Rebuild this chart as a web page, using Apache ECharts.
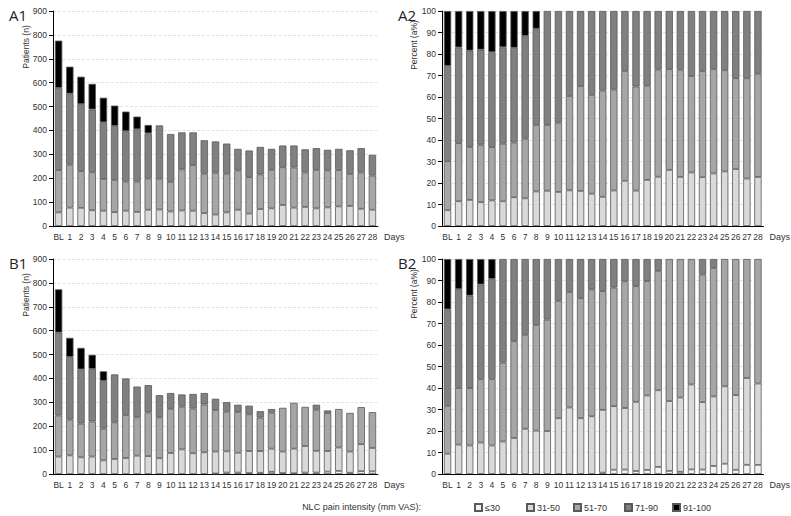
<!DOCTYPE html>
<html>
<head>
<meta charset="utf-8">
<script src="https://cdn.jsdelivr.net/npm/echarts@6/dist/echarts.min.js"></script>
<style>
  html, body { margin: 0; padding: 0; background: #fff; }
  #chart { width: 791px; height: 516px; }
</style>
</head>
<body>
<div id="chart"></div>
<script>
// day labels
var days = ['BL', '1', '2', '3', '4', '5', '6', '7', '8', '9', '10', '11', '12', '13', '14',
  '15', '16', '17', '18', '19', '20', '21', '22', '23', '24', '25', '26', '27', '28'];
// pain classes (mm VAS)
var levels = ['≤30', '31-50', '51-70', '71-90', '91-100'];
var colors = ['#f2f2f2', '#d9d9d9', '#a6a6a6', '#808080', '#000000'];

// group A : patients per class
var a30  = [0, 0, 0, 0, 0, 0, 0, 0, 0, 0, 0, 0, 0, 0, 0, 0, 0, 0, 0, 0, 0, 0, 0, 0, 0, 0, 0, 0, 0];
var a50  = [57, 77, 76, 66, 64, 58, 64, 59, 68, 69, 61, 65, 64, 54, 48, 57, 68, 52, 71, 74, 88, 77, 80, 74, 78, 82, 84, 72, 68];
var a70  = [177, 180, 154, 159, 133, 135, 122, 127, 131, 129, 124, 172, 191, 165, 175, 162, 165, 153, 145, 161, 158, 168, 144, 161, 155, 152, 134, 152, 143];
var a90  = [344, 297, 280, 263, 237, 226, 211, 219, 189, 223, 200, 155, 137, 140, 131, 126, 90, 111, 115, 88, 91, 92, 97, 91, 86, 89, 99, 102, 87];
var a100 = [198, 113, 115, 107, 103, 85, 82, 53, 35, 0, 0, 0, 0, 0, 0, 0, 0, 0, 0, 0, 0, 0, 0, 0, 0, 0, 0, 0, 0];

// group B : patients per class
var b30  = [0, 0, 0, 0, 0, 0, 0, 0, 0, 0, 0, 0, 0, 0, 2, 6, 6, 4, 5, 9, 4, 3, 6, 6, 10, 13, 5, 12, 11];
var b50  = [73, 78, 70, 73, 57, 63, 67, 77, 75, 66, 88, 103, 87, 91, 92, 89, 83, 92, 91, 97, 90, 103, 111, 91, 86, 98, 89, 113, 98];
var b70  = [172, 150, 141, 147, 133, 153, 180, 160, 183, 171, 185, 179, 187, 200, 174, 166, 171, 154, 140, 151, 183, 192, 164, 172, 159, 161, 162, 155, 150];
var b90  = [347, 262, 227, 220, 200, 201, 153, 129, 114, 93, 66, 51, 61, 48, 47, 40, 30, 36, 27, 15, 0, 0, 0, 21, 11, 0, 0, 0, 0];
var b100 = [181, 80, 90, 59, 40, 0, 0, 0, 0, 0, 0, 0, 0, 0, 0, 0, 0, 0, 0, 0, 0, 0, 0, 0, 0, 0, 0, 0, 0];

var groupA = [a30, a50, a70, a90, a100];
var groupB = [b30, b50, b70, b90, b100];

function toPercent(group) {   // share of each class per day
  return group.map(function (arr) {
    return arr.map(function (v, i) {
      var tot = 0;
      group.forEach(function (g) { tot += g[i]; });
      return v / tot * 100;
    });
  });
}

var panels = [
  { name: 'A1', data: groupA, pct: false, left: 53, top: 11, width: 325, yname: 'Patients (n)', nx: 26, ny: 47 },
  { name: 'A2', data: toPercent(groupA), pct: true, left: 442, top: 11, width: 324, yname: 'Percent (a%)', nx: 414, ny: 45 },
  { name: 'B1', data: groupB, pct: false, left: 53, top: 259, width: 325, yname: 'Patients (n)', nx: 26, ny: 295 },
  { name: 'B2', data: toPercent(groupB), pct: true, left: 442, top: 259, width: 324, yname: 'Percent (a%)', nx: 414, ny: 294 }
];

var font = '"Liberation Sans", Arial, sans-serif';
var grid = [], xAxis = [], yAxis = [], series = [], title = [], graphic = [];

panels.forEach(function (p, k) {
  grid.push({ left: p.left, top: p.top, width: p.width, height: 215 });
  xAxis.push({
    type: 'category', gridIndex: k, data: days,
    name: 'Days', nameLocation: 'end', nameGap: 6,
    nameTextStyle: { fontFamily: font, fontSize: 9, color: '#333', verticalAlign: 'top', padding: [6, 0, 0, 0] },
    axisLine: { lineStyle: { color: '#000', width: 1 } },
    axisTick: { length: 4, lineStyle: { color: '#000' }, interval: 0 },
    axisLabel: { interval: 0, fontFamily: font, fontSize: 8.5, color: '#333', margin: 6 }
  });
  yAxis.push({
    type: 'value', gridIndex: k, min: 0,
    max: p.pct ? 100 : 900, interval: p.pct ? 10 : 100,
    axisLine: { show: true, lineStyle: { color: '#000', width: 1 } },
    axisTick: { show: true, length: 4, lineStyle: { color: '#000' } },
    axisLabel: { fontFamily: font, fontSize: 8.5, color: '#333', margin: 6 },
    splitLine: { lineStyle: { type: 'dashed', color: '#dcdcdc', width: 0.8 } }
  });
  p.data.forEach(function (arr, j) {
    series.push({
      type: 'bar', name: levels[j], stack: 'st' + k,
      xAxisIndex: k, yAxisIndex: k, barWidth: '66%',
      itemStyle: { color: colors[j], borderColor: '#595959', borderWidth: 0.8 },
      data: arr.map(function (v) { return v > 0 ? v : null; })
    });
  });
  title.push({
    text: p.name, left: p.left - 49, top: p.top - 9,
    textStyle: { fontFamily: '"Open Sans", sans-serif', fontSize: 15, fontWeight: 'normal', color: '#222' }
  });
  graphic.push({
    type: 'text', x: p.nx, y: p.ny, rotation: Math.PI / 2,
    style: { text: p.yname, fill: '#333', font: '8.5px ' + font, align: 'center', verticalAlign: 'middle' }
  });
});

graphic.push({
  type: 'text', x: 421, y: 507,
  style: { text: 'NLC pain intensity (mm VAS):', fill: '#333', font: '9px ' + font, align: 'right', verticalAlign: 'middle' }
});

// one small legend per class so the items are evenly spaced
var legendLeft = [474, 526, 573, 624, 672];
var legend = levels.map(function (lv, j) {
  return {
    data: [lv], left: legendLeft[j], top: 503, padding: 0,
    itemWidth: 7, itemHeight: 7, itemGap: 4, icon: 'rect', selectedMode: false,
    textStyle: { fontFamily: font, fontSize: 9, color: '#333', padding: [0, 0, 0, -2] }
  };
});

var chart = echarts.init(document.getElementById('chart'), null, { renderer: 'svg' });
chart.setOption({
  animation: false,
  backgroundColor: '#fff',
  title: title,
  legend: legend,
  grid: grid,
  xAxis: xAxis,
  yAxis: yAxis,
  series: series,
  graphic: graphic
});
</script>
</body>
</html>
